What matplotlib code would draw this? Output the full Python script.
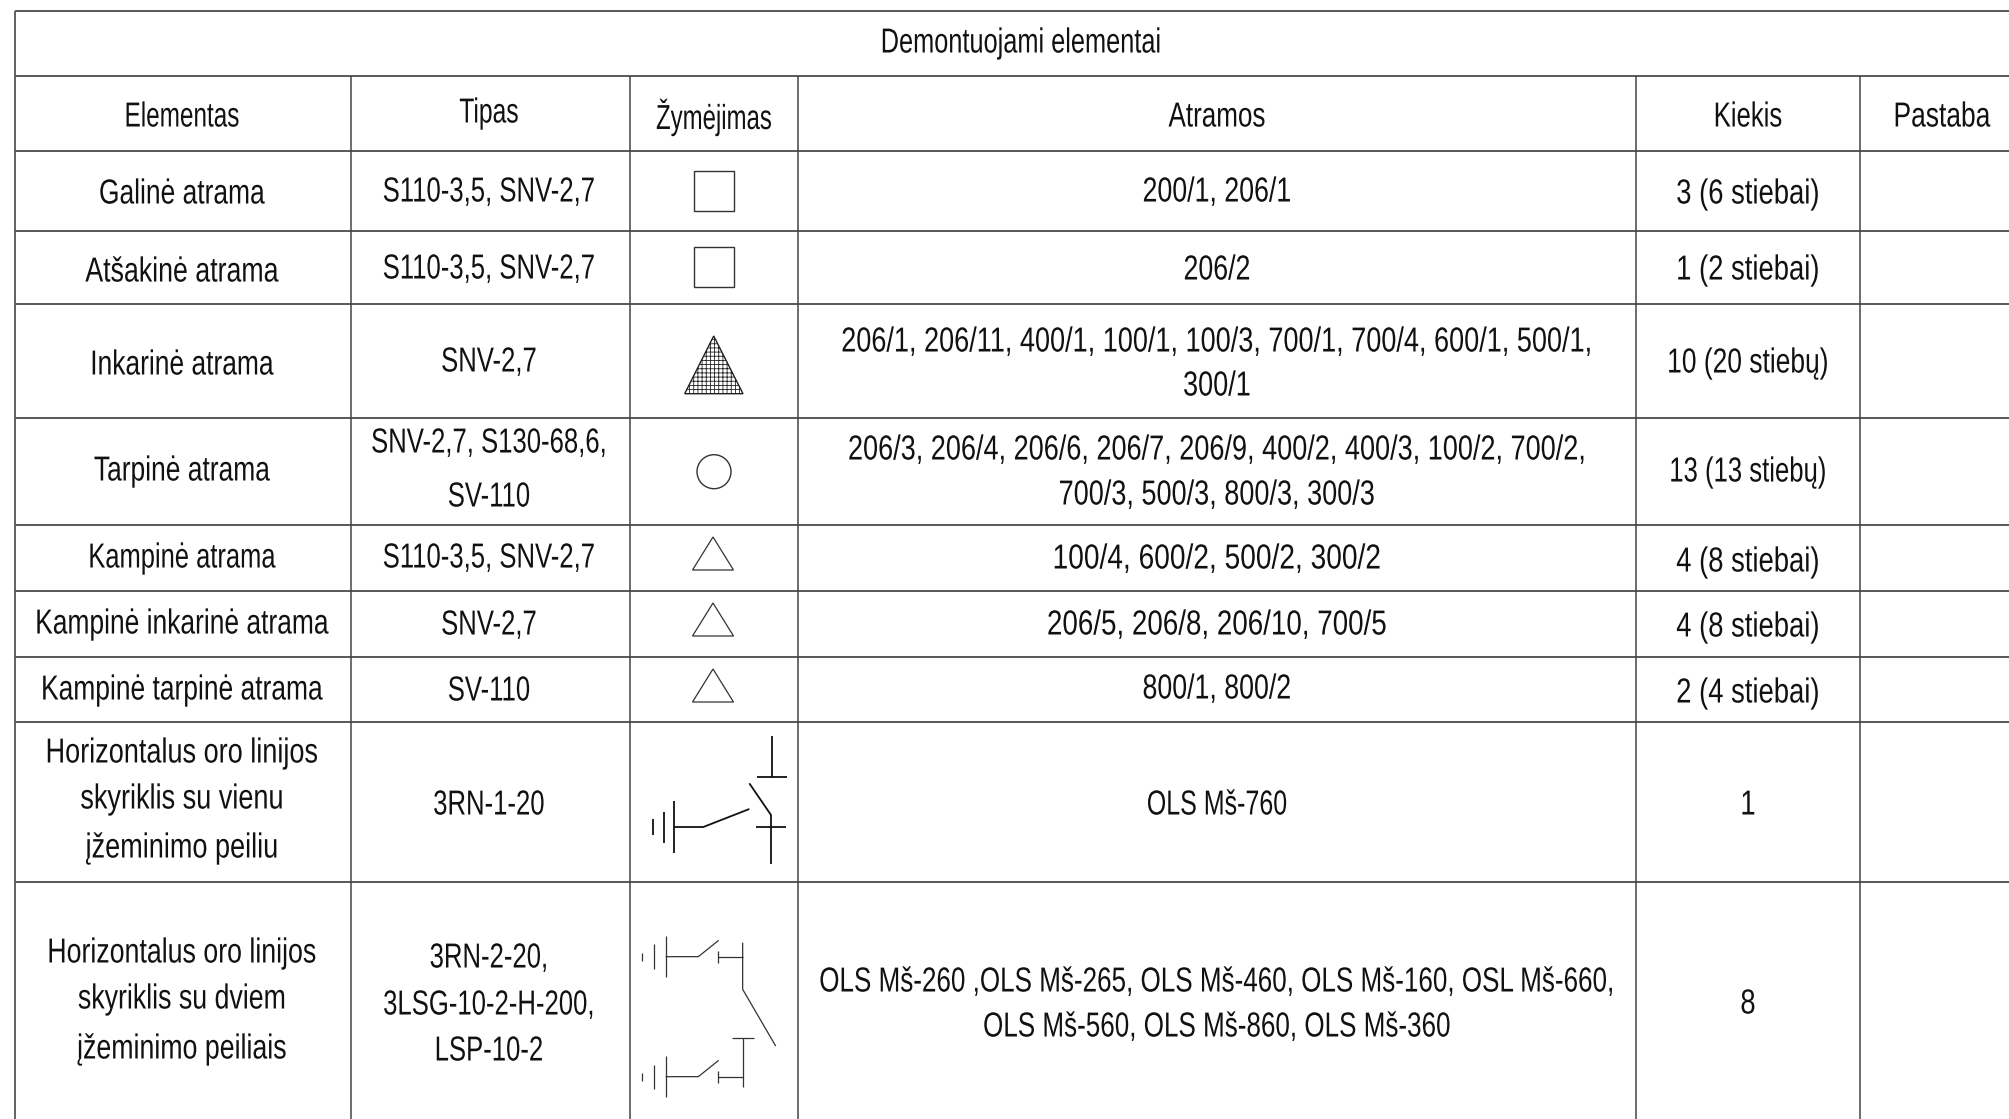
import matplotlib
matplotlib.use("Agg")
import matplotlib.pyplot as plt
from matplotlib.patches import Rectangle, Polygon, Circle
from matplotlib.patheffects import AbstractPathEffect
from matplotlib.transforms import Affine2D

plt.rcParams['font.family'] = ['Liberation Sans', 'DejaVu Sans']
plt.rcParams['hatch.linewidth'] = 0.6
plt.rcParams['hatch.color'] = '#222222'

TITLE = "Demontuojami elementai"
HEADERS = ["Elementas", "Tipas", "Žymėjimas", "Atramos", "Kiekis", "Pastaba"]
ELEMENTS = [
    ["Galinė atrama"],
    ["Atšakinė atrama"],
    ["Inkarinė atrama"],
    ["Tarpinė atrama"],
    ["Kampinė atrama"],
    ["Kampinė inkarinė atrama"],
    ["Kampinė tarpinė atrama"],
    ["Horizontalus oro linijos", "skyriklis su vienu", "įžeminimo peiliu"],
    ["Horizontalus oro linijos", "skyriklis su dviem", "įžeminimo peiliais"],
]
TYPES = [
    ["S110-3,5, SNV-2,7"],
    ["S110-3,5, SNV-2,7"],
    ["SNV-2,7"],
    ["SNV-2,7, S130-68,6,", "SV-110"],
    ["S110-3,5, SNV-2,7"],
    ["SNV-2,7"],
    ["SV-110"],
    ["3RN-1-20"],
    ["3RN-2-20,", "3LSG-10-2-H-200,", "LSP-10-2"],
]
POLES = [
    ["200/1, 206/1"],
    ["206/2"],
    ["206/1, 206/11, 400/1, 100/1, 100/3, 700/1, 700/4, 600/1, 500/1,", "300/1"],
    ["206/3, 206/4, 206/6, 206/7, 206/9, 400/2, 400/3, 100/2, 700/2,", "700/3, 500/3, 800/3, 300/3"],
    ["100/4, 600/2, 500/2, 300/2"],
    ["206/5, 206/8, 206/10, 700/5"],
    ["800/1, 800/2"],
    ["OLS Mš-760"],
    ["OLS Mš-260 ,OLS Mš-265, OLS Mš-460, OLS Mš-160, OSL Mš-660,", "OLS Mš-560, OLS Mš-860, OLS Mš-360"],
]
COUNTS = [
    ["3 (6 stiebai)"],
    ["1 (2 stiebai)"],
    ["10 (20 stiebų)"],
    ["13 (13 stiebų)"],
    ["4 (8 stiebai)"],
    ["4 (8 stiebai)"],
    ["2 (4 stiebai)"],
    ["1"],
    ["8"],
]

# layout in pixels
W, H = 2009, 1119
H_LINES = [10.5, 75.6, 151, 230.5, 304, 417.5, 525, 590.6, 657, 721.5, 882]
V_LINES = [15.4, 351, 629.5, 798, 1636, 1860]
COL_X = [182, 489, 714, 1217, 1748, 1942]
HEADER_Y = [117, 113, 117, 117, 117, 117]
ELEMENT_Y = [[194], [272], [365], [471], [558], [624], [690], [753, 799, 848], [953, 999, 1049]]
TYPE_Y = [[192], [269], [362], [443, 497], [558], [625], [691], [805], [958, 1005, 1051]]
POLE_Y = [[192], [270], [342, 386], [450, 495], [559], [625], [689], [805], [982, 1027]]
COUNT_Y = [[194], [270], [363], [472], [562], [627], [693], [805], [1004]]

# horizontal squeeze per row, the CAD font has other letter widths than the one drawn here
HEADER_SX = [0.70, 0.71, 0.69, 0.75, 0.74, 0.76]
ELEMENT_SX = [0.76, 0.77, 0.76, 0.76, 0.735, 0.76, 0.76, 0.78, 0.77]
TYPE_SX = [0.74] * 9
POLE_SX = [0.77, 0.77, 0.78, 0.78, 0.81, 0.80, 0.77, 0.72, 0.75]
COUNT_SX = [0.79, 0.79, 0.76, 0.74, 0.79, 0.79, 0.79, 0.79, 0.79]

FONT_PT = 25
LINE = '#2a2a2a'


class Condense(AbstractPathEffect):
    """squeeze a text horizontally round its centre"""

    def __init__(self, cx, sx):
        super().__init__()
        self.cx = cx
        self.sx = sx

    def draw_path(self, renderer, gc, tpath, affine, rgbFace=None):
        squeeze = Affine2D().translate(-self.cx, 0).scale(self.sx, 1).translate(self.cx, 0)
        renderer.draw_path(gc, tpath, affine + squeeze, rgbFace)


def put_text(ax, x, y, s, sx):
    ax.text(x, y, s, ha='center', va='center', fontsize=FONT_PT, color='#111111',
            path_effects=[Condense(x, sx)])


def seg(ax, pts, x0, y0, lw=1.3, color='#111111'):
    # symbol strokes given in zoomed crop units (3x), relative to the crop origin
    xs = [x0 + p[0] / 3 for p in pts]
    ys = [y0 + p[1] / 3 for p in pts]
    ax.plot(xs, ys, color=color, lw=lw, solid_capstyle='butt', solid_joinstyle='miter')


fig = plt.figure(figsize=(W / 100, H / 100), dpi=100)
ax = fig.add_axes([0, 0, 1, 1])
ax.set_xlim(0, W)
ax.set_ylim(H, 0)
ax.axis('off')

# grid
ax.hlines(H_LINES[0], V_LINES[0], W, color=LINE, lw=1.1)
ax.hlines(H_LINES[1:], V_LINES[0], W, color=LINE, lw=1.1)
ax.vlines(V_LINES[0], H_LINES[0], H, color='#555555', lw=1.3)
ax.vlines(V_LINES[1:], H_LINES[1], H, color='#444444', lw=1.1)

# text
put_text(ax, 1021, 43, TITLE, 0.73)
for x, y, s, sx in zip(COL_X, HEADER_Y, HEADERS, HEADER_SX):
    put_text(ax, x, y, s, sx)
for col, ys, x, sxs in [(ELEMENTS, ELEMENT_Y, COL_X[0], ELEMENT_SX), (TYPES, TYPE_Y, COL_X[1], TYPE_SX),
                        (POLES, POLE_Y, COL_X[3], POLE_SX), (COUNTS, COUNT_Y, COL_X[4], COUNT_SX)]:
    for lines, line_ys, sx in zip(col, ys, sxs):
        for s, y in zip(lines, line_ys):
            put_text(ax, x, y, s, sx)

# symbols
for y in [171, 247]:
    ax.add_patch(Rectangle((694, y), 40, 39.5, fill=False, ec='#333333', lw=1.0))
ax.add_patch(Polygon([(713.7, 336), (684.7, 393.7), (743, 393.7)], closed=True,
                     fc='white', ec='#222222', lw=1.0, hatch='++++'))
ax.add_patch(Circle((714, 471.7), 17, fill=False, ec='#333333', lw=1.0))
for y_top, y_base in [(537, 570), (603, 636), (669, 702)]:
    ax.add_patch(Polygon([(713, y_top), (692.5, y_base), (733.5, y_base)], closed=True,
                         fill=False, ec='#333333', lw=0.9))

# disconnector with one earthing blade
x0, y0 = 620, 700
for pts in [[(456, 108), (456, 230)], [(410, 230), (500, 230)],
            [(388, 250), (453, 345), (453, 492)], [(408, 381), (498, 381)],
            [(162, 303), (162, 458)], [(131, 335), (131, 428)], [(100, 357), (100, 405)],
            [(162, 381), (250, 381), (388, 327)]]:
    seg(ax, pts, x0, y0)

# disconnector with two earthing blades
for pts in [[(137, 709), (137, 830)], [(101, 733), (101, 806)], [(65, 758), (65, 782)],
            [(137, 770), (235, 770), (296, 721)], [(295, 752), (295, 788)], [(295, 770), (368, 770)],
            [(368, 728), (368, 868), (467, 1038)],
            [(137, 1069), (137, 1191)], [(101, 1094), (101, 1166)], [(65, 1118), (65, 1142)],
            [(137, 1130), (235, 1130), (296, 1081)], [(295, 1112), (295, 1148)], [(295, 1130), (368, 1130)],
            [(368, 1015), (368, 1162)], [(335, 1015), (402, 1015)]]:
    seg(ax, pts, x0, y0, lw=0.9, color='#333333')

fig.savefig("out.png", dpi=100)
